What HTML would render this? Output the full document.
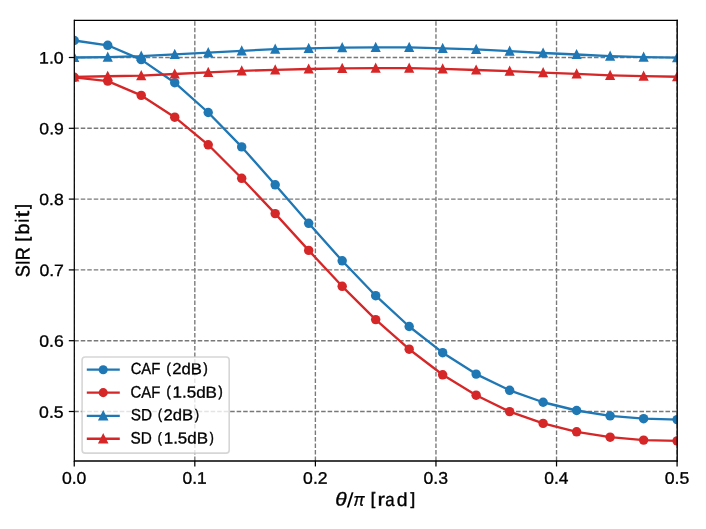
<!DOCTYPE html>
<html lang="en"><head><meta charset="utf-8"><title>SIR vs theta</title>
<style>html,body{margin:0;padding:0;background:#fff;}body{width:706px;height:529px;overflow:hidden;font-family:"Liberation Sans",sans-serif;}svg{display:block;will-change:transform;}text{text-rendering:geometricPrecision;font-family:"Liberation Sans",sans-serif;fill:#000;}</style>
</head><body>
<svg width="706" height="529" viewBox="0 0 706 529">
<defs><clipPath id="ax"><rect x="74.25" y="20.35" width="602.85" height="440.65"/></clipPath></defs>
<rect x="0" y="0" width="706" height="529" fill="#ffffff"/>
<g clip-path="url(#ax)" stroke="#787878" stroke-width="1.36" stroke-dasharray="4.535 1.962" fill="none">
<line x1="74.25" y1="461" x2="74.25" y2="20.35" stroke-dashoffset="0.05"/>
<line x1="194.82" y1="461" x2="194.82" y2="20.35" stroke-dashoffset="0.05"/>
<line x1="315.39" y1="461" x2="315.39" y2="20.35" stroke-dashoffset="0.05"/>
<line x1="435.96" y1="461" x2="435.96" y2="20.35" stroke-dashoffset="0.05"/>
<line x1="556.53" y1="461" x2="556.53" y2="20.35" stroke-dashoffset="0.05"/>
<line x1="677.1" y1="461" x2="677.1" y2="20.35" stroke-dashoffset="0.05"/>
<line x1="74.25" y1="57.5" x2="677.1" y2="57.5" stroke-dashoffset="0"/>
<line x1="74.25" y1="128.3" x2="677.1" y2="128.3" stroke-dashoffset="0"/>
<line x1="74.25" y1="199.1" x2="677.1" y2="199.1" stroke-dashoffset="0"/>
<line x1="74.25" y1="269.9" x2="677.1" y2="269.9" stroke-dashoffset="0"/>
<line x1="74.25" y1="340.7" x2="677.1" y2="340.7" stroke-dashoffset="0"/>
<line x1="74.25" y1="411.5" x2="677.1" y2="411.5" stroke-dashoffset="0"/>
</g>
<g clip-path="url(#ax)">
<polyline points="74.25,40.5 107.74,45.3 141.23,59.65 174.73,82.7 208.22,112.5 241.71,146.9 275.2,184.8 308.69,223.3 342.18,260.8 375.68,295.7 409.17,326.5 442.66,352.7 476.15,374.1 509.64,390.3 543.13,402.25 576.62,410.5 610.12,415.9 643.61,418.7 677.1,419.6" fill="none" stroke="#1f77b4" stroke-width="2.33" stroke-linejoin="round" stroke-linecap="square"/>
<g fill="#1f77b4">
<circle cx="74.25" cy="40.5" r="4.72"/>
<circle cx="107.74" cy="45.3" r="4.72"/>
<circle cx="141.23" cy="59.65" r="4.72"/>
<circle cx="174.73" cy="82.7" r="4.72"/>
<circle cx="208.22" cy="112.5" r="4.72"/>
<circle cx="241.71" cy="146.9" r="4.72"/>
<circle cx="275.2" cy="184.8" r="4.72"/>
<circle cx="308.69" cy="223.3" r="4.72"/>
<circle cx="342.18" cy="260.8" r="4.72"/>
<circle cx="375.68" cy="295.7" r="4.72"/>
<circle cx="409.17" cy="326.5" r="4.72"/>
<circle cx="442.66" cy="352.7" r="4.72"/>
<circle cx="476.15" cy="374.1" r="4.72"/>
<circle cx="509.64" cy="390.3" r="4.72"/>
<circle cx="543.13" cy="402.25" r="4.72"/>
<circle cx="576.62" cy="410.5" r="4.72"/>
<circle cx="610.12" cy="415.9" r="4.72"/>
<circle cx="643.61" cy="418.7" r="4.72"/>
<circle cx="677.1" cy="419.6" r="4.72"/>
</g>
</g>
<g clip-path="url(#ax)">
<polyline points="74.25,77.3 107.74,81.1 141.23,95.4 174.73,117.2 208.22,144.8 241.71,178.3 275.2,213.6 308.69,250.4 342.18,286.3 375.68,319.6 409.17,349.2 442.66,374.8 476.15,395.2 509.64,411.6 543.13,423.4 576.62,431.8 610.12,437.2 643.61,440.1 677.1,440.9" fill="none" stroke="#d62728" stroke-width="2.33" stroke-linejoin="round" stroke-linecap="square"/>
<g fill="#d62728">
<circle cx="74.25" cy="77.3" r="4.72"/>
<circle cx="107.74" cy="81.1" r="4.72"/>
<circle cx="141.23" cy="95.4" r="4.72"/>
<circle cx="174.73" cy="117.2" r="4.72"/>
<circle cx="208.22" cy="144.8" r="4.72"/>
<circle cx="241.71" cy="178.3" r="4.72"/>
<circle cx="275.2" cy="213.6" r="4.72"/>
<circle cx="308.69" cy="250.4" r="4.72"/>
<circle cx="342.18" cy="286.3" r="4.72"/>
<circle cx="375.68" cy="319.6" r="4.72"/>
<circle cx="409.17" cy="349.2" r="4.72"/>
<circle cx="442.66" cy="374.8" r="4.72"/>
<circle cx="476.15" cy="395.2" r="4.72"/>
<circle cx="509.64" cy="411.6" r="4.72"/>
<circle cx="543.13" cy="423.4" r="4.72"/>
<circle cx="576.62" cy="431.8" r="4.72"/>
<circle cx="610.12" cy="437.2" r="4.72"/>
<circle cx="643.61" cy="440.1" r="4.72"/>
<circle cx="677.1" cy="440.9" r="4.72"/>
</g>
</g>
<g clip-path="url(#ax)">
<polyline points="74.25,57.5 107.74,57.1 141.23,56.2 174.73,54.45 208.22,52.6 241.71,50.8 275.2,49.1 308.69,48.35 342.18,47.6 375.68,47.4 409.17,47.4 442.66,48.35 476.15,49.45 509.64,51.1 543.13,53 576.62,54.5 610.12,56.1 643.61,57.1 677.1,57.6" fill="none" stroke="#1f77b4" stroke-width="2.33" stroke-linejoin="round" stroke-linecap="square"/>
<g fill="#1f77b4" stroke="#1f77b4" stroke-width="1.6" stroke-linejoin="miter">
<path d="M74.25 53.7L70.45 61.3L78.05 61.3Z"/>
<path d="M107.74 53.3L103.94 60.9L111.54 60.9Z"/>
<path d="M141.23 52.4L137.43 60L145.03 60Z"/>
<path d="M174.73 50.65L170.93 58.25L178.53 58.25Z"/>
<path d="M208.22 48.8L204.42 56.4L212.02 56.4Z"/>
<path d="M241.71 47L237.91 54.6L245.51 54.6Z"/>
<path d="M275.2 45.3L271.4 52.9L279 52.9Z"/>
<path d="M308.69 44.55L304.89 52.15L312.49 52.15Z"/>
<path d="M342.18 43.8L338.38 51.4L345.98 51.4Z"/>
<path d="M375.68 43.6L371.88 51.2L379.48 51.2Z"/>
<path d="M409.17 43.6L405.37 51.2L412.97 51.2Z"/>
<path d="M442.66 44.55L438.86 52.15L446.46 52.15Z"/>
<path d="M476.15 45.65L472.35 53.25L479.95 53.25Z"/>
<path d="M509.64 47.3L505.84 54.9L513.44 54.9Z"/>
<path d="M543.13 49.2L539.33 56.8L546.93 56.8Z"/>
<path d="M576.62 50.7L572.83 58.3L580.42 58.3Z"/>
<path d="M610.12 52.3L606.32 59.9L613.92 59.9Z"/>
<path d="M643.61 53.3L639.81 60.9L647.41 60.9Z"/>
<path d="M677.1 53.8L673.3 61.4L680.9 61.4Z"/>
</g>
</g>
<g clip-path="url(#ax)">
<polyline points="74.25,76.8 107.74,76.25 141.23,75.6 174.73,74 208.22,72.3 241.71,70.9 275.2,69.85 308.69,69 342.18,68.3 375.68,68.1 409.17,68.2 442.66,68.8 476.15,70 509.64,71.2 543.13,72.6 576.62,73.95 610.12,75.3 643.61,76.2 677.1,76.7" fill="none" stroke="#d62728" stroke-width="2.33" stroke-linejoin="round" stroke-linecap="square"/>
<g fill="#d62728" stroke="#d62728" stroke-width="1.6" stroke-linejoin="miter">
<path d="M74.25 73L70.45 80.6L78.05 80.6Z"/>
<path d="M107.74 72.45L103.94 80.05L111.54 80.05Z"/>
<path d="M141.23 71.8L137.43 79.4L145.03 79.4Z"/>
<path d="M174.73 70.2L170.93 77.8L178.53 77.8Z"/>
<path d="M208.22 68.5L204.42 76.1L212.02 76.1Z"/>
<path d="M241.71 67.1L237.91 74.7L245.51 74.7Z"/>
<path d="M275.2 66.05L271.4 73.65L279 73.65Z"/>
<path d="M308.69 65.2L304.89 72.8L312.49 72.8Z"/>
<path d="M342.18 64.5L338.38 72.1L345.98 72.1Z"/>
<path d="M375.68 64.3L371.88 71.9L379.48 71.9Z"/>
<path d="M409.17 64.4L405.37 72L412.97 72Z"/>
<path d="M442.66 65L438.86 72.6L446.46 72.6Z"/>
<path d="M476.15 66.2L472.35 73.8L479.95 73.8Z"/>
<path d="M509.64 67.4L505.84 75L513.44 75Z"/>
<path d="M543.13 68.8L539.33 76.4L546.93 76.4Z"/>
<path d="M576.62 70.15L572.83 77.75L580.42 77.75Z"/>
<path d="M610.12 71.5L606.32 79.1L613.92 79.1Z"/>
<path d="M643.61 72.4L639.81 80L647.41 80Z"/>
<path d="M677.1 72.9L673.3 80.5L680.9 80.5Z"/>
</g>
</g>
<g stroke="#000" stroke-linecap="butt">
<line x1="74.3" y1="19.68" x2="74.3" y2="461.8" stroke-width="1.24"/>
<line x1="677.2" y1="19.68" x2="677.2" y2="461.8" stroke-width="1.4"/>
<line x1="73.93" y1="20.33" x2="677.9" y2="20.33" stroke-width="1.3"/>
<line x1="73.93" y1="461" x2="677.9" y2="461" stroke-width="1.6"/>
</g>
<g stroke="#000" stroke-width="1.24">
<line x1="74.25" y1="461" x2="74.25" y2="466.44"/>
<line x1="194.82" y1="461" x2="194.82" y2="466.44"/>
<line x1="315.39" y1="461" x2="315.39" y2="466.44"/>
<line x1="435.96" y1="461" x2="435.96" y2="466.44"/>
<line x1="556.53" y1="461" x2="556.53" y2="466.44"/>
<line x1="677.1" y1="461" x2="677.1" y2="466.44"/>
<line x1="74.25" y1="57.5" x2="68.81" y2="57.5"/>
<line x1="74.25" y1="128.3" x2="68.81" y2="128.3"/>
<line x1="74.25" y1="199.1" x2="68.81" y2="199.1"/>
<line x1="74.25" y1="269.9" x2="68.81" y2="269.9"/>
<line x1="74.25" y1="340.7" x2="68.81" y2="340.7"/>
<line x1="74.25" y1="411.5" x2="68.81" y2="411.5"/>
</g>
<text id="yt0" transform="translate(39.02 63.47) rotate(0.05) scale(1.1096 1.0341)" font-size="16" stroke="#000" stroke-width="0.3">1.0</text>
<text id="yt1" transform="translate(39.36 134.16) rotate(0.05) scale(1.0993 1.0136)" font-size="16" stroke="#000" stroke-width="0.3">0.9</text>
<text id="yt2" transform="translate(39.36 205.08) rotate(0.05) scale(1.0949 1.0166)" font-size="16" stroke="#000" stroke-width="0.3">0.8</text>
<text id="yt3" transform="translate(39.38 276.04) rotate(0.05) scale(1.1049 1.0278)" font-size="16" stroke="#000" stroke-width="0.3">0.7</text>
<text id="yt4" transform="translate(39.27 346.84) rotate(0.05) scale(1.0991 1.0335)" font-size="16" stroke="#000" stroke-width="0.3">0.6</text>
<text id="yt5" transform="translate(39.08 417.64) rotate(0.05) scale(1.1029 1.0246)" font-size="16" stroke="#000" stroke-width="0.3">0.5</text>
<text id="xt0" transform="translate(61.88 483.7) rotate(0.05) scale(1.1030 1.0551)" font-size="16" stroke="#000" stroke-width="0.3">0.0</text>
<text id="xt1" transform="translate(182.54 483.74) rotate(0.05) scale(1.0867 1.0507)" font-size="16" stroke="#000" stroke-width="0.3">0.1</text>
<text id="xt2" transform="translate(303.12 483.73) rotate(0.05) scale(1.0982 1.0467)" font-size="16" stroke="#000" stroke-width="0.3">0.2</text>
<text id="xt3" transform="translate(423.47 483.73) rotate(0.05) scale(1.1007 1.0510)" font-size="16" stroke="#000" stroke-width="0.3">0.3</text>
<text id="xt4" transform="translate(544.29 483.72) rotate(0.05) scale(1.0887 1.0502)" font-size="16" stroke="#000" stroke-width="0.3">0.4</text>
<text id="xt5" transform="translate(664.64 483.73) rotate(0.05) scale(1.1046 1.0470)" font-size="16" stroke="#000" stroke-width="0.3">0.5</text>
<text id="yl_SIR" transform="translate(29.41 277.29) rotate(-89.95) scale(1.1277 1.2312)" font-size="16" stroke="#000" stroke-width="0.3">SIR</text>
<text id="yl_lb" transform="translate(27.9 241.51) rotate(-89.95) scale(1.0436 1.0837)" font-size="16" stroke="#000" stroke-width="0.55">[</text>
<text id="yl_b" transform="translate(29.02 234.38) rotate(-89.95) scale(1.2377 1.1947)" font-size="16" stroke="#000" stroke-width="0.3">b</text>
<text id="yl_i" transform="translate(28.83 222.21) rotate(-89.95) scale(0.9392 1.1958)" font-size="16" stroke="#000" stroke-width="0.3">i</text>
<text id="yl_t" transform="translate(28.95 217.62) rotate(-89.95) scale(1.4946 1.2403)" font-size="16" stroke="#000" stroke-width="0.3">t</text>
<text id="yl_rb" transform="translate(27.84 208.73) rotate(-89.95) scale(1.0410 1.0862)" font-size="16" stroke="#000" stroke-width="0.55">]</text>
<text id="xl_theta" transform="translate(335.24 505.53) rotate(0.05) scale(1.3071 1.1681)" font-size="16" stroke="#000" stroke-width="0.3" font-style="italic">θ</text>
<text id="xl_slash" transform="translate(346.71 507.18) rotate(0.05) scale(1.5315 1.3002)" font-size="16" stroke="#000" stroke-width="0">/</text>
<text id="xl_pi" transform="translate(353.44 505.69) rotate(0.05) scale(1.0290 1.1480)" font-size="16" stroke="#000" stroke-width="0.3" font-style="italic">π</text>
<text id="xl_lb" transform="translate(370.72 504.58) rotate(0.05) scale(1.0164 1.0648)" font-size="16" stroke="#000" stroke-width="0.55">[</text>
<text id="xl_r" transform="translate(377.48 505.47) rotate(0.05) scale(1.4128 1.1321)" font-size="16" stroke="#000" stroke-width="0.3">r</text>
<text id="xl_a" transform="translate(385.28 505.92) rotate(0.05) scale(1.0478 1.1812)" font-size="16" stroke="#000" stroke-width="0.3">a</text>
<text id="xl_d" transform="translate(396.7 505.95) rotate(0.05) scale(1.2068 1.1786)" font-size="16" stroke="#000" stroke-width="0.3">d</text>
<text id="xl_rb" transform="translate(410.38 504.54) rotate(0.05) scale(1.0384 1.0622)" font-size="16" stroke="#000" stroke-width="0.55">]</text>
<rect x="82.1" y="356.95" width="147.1" height="96.2" rx="3.1" ry="3.1" fill="#ffffff" fill-opacity="0.8" stroke="#cccccc" stroke-opacity="0.8" stroke-width="1.6"/>
<line x1="86.8" y1="369.7" x2="119.8" y2="369.7" stroke="#1f77b4" stroke-width="2.33"/>
<circle cx="103.2" cy="369.7" r="4.55" fill="#1f77b4"/>
<line x1="86.8" y1="392.65" x2="119.8" y2="392.65" stroke="#d62728" stroke-width="2.33"/>
<circle cx="103.2" cy="392.65" r="4.55" fill="#d62728"/>
<line x1="86.8" y1="415.8" x2="119.8" y2="415.8" stroke="#1f77b4" stroke-width="2.33"/>
<path d="M103.2 411.82L99.22 419.78L107.18 419.78Z" fill="#1f77b4" stroke="#1f77b4" stroke-width="1.6" stroke-linejoin="miter"/>
<line x1="86.8" y1="438.75" x2="119.8" y2="438.75" stroke="#d62728" stroke-width="2.33"/>
<path d="M103.2 434.77L99.22 442.73L107.18 442.73Z" fill="#d62728" stroke="#d62728" stroke-width="1.6" stroke-linejoin="miter"/>
<text id="lg0_w" transform="translate(130.64 373.98) rotate(0.05) scale(0.9290 1.0090)" font-size="16" stroke="#000" stroke-width="0.3">CAF</text>
<text id="lg0_lp" transform="translate(166.48 372.98) rotate(0.05) scale(0.8012 0.8914)" font-size="16" stroke="#000" stroke-width="0.55">(</text>
<text id="lg0_v" transform="translate(172.17 374.12) rotate(0.05) scale(1.0432 0.9869)" font-size="16" stroke="#000" stroke-width="0.3">2dB</text>
<text id="lg0_rp" transform="translate(203.5 372.91) rotate(0.05) scale(0.7902 0.8997)" font-size="16" stroke="#000" stroke-width="0.55">)</text>
<text id="lg1_w" transform="translate(130.57 397.62) rotate(0.05) scale(0.9315 1.0270)" font-size="16" stroke="#000" stroke-width="0.3">CAF</text>
<text id="lg1_lp" transform="translate(166.39 396.29) rotate(0.05) scale(0.7779 0.9085)" font-size="16" stroke="#000" stroke-width="0.55">(</text>
<text id="lg1_v" transform="translate(172.45 397.61) rotate(0.05) scale(1.0648 0.9960)" font-size="16" stroke="#000" stroke-width="0.3">1.5dB</text>
<text id="lg1_rp" transform="translate(218.48 396.37) rotate(0.05) scale(0.7862 0.9050)" font-size="16" stroke="#000" stroke-width="0.55">)</text>
<text id="lg2_w" transform="translate(130.74 420.21) rotate(0.05) scale(0.9576 1.0127)" font-size="16" stroke="#000" stroke-width="0.3">SD</text>
<text id="lg2_lp" transform="translate(157.9 419.01) rotate(0.05) scale(0.7353 0.8956)" font-size="16" stroke="#000" stroke-width="0.55">(</text>
<text id="lg2_v" transform="translate(163.58 420.32) rotate(0.05) scale(1.0388 0.9840)" font-size="16" stroke="#000" stroke-width="0.3">2dB</text>
<text id="lg2_rp" transform="translate(194.95 419.17) rotate(0.05) scale(0.7459 0.8935)" font-size="16" stroke="#000" stroke-width="0.55">)</text>
<text id="lg3_w" transform="translate(130.43 443.57) rotate(0.05) scale(0.9578 1.0269)" font-size="16" stroke="#000" stroke-width="0.3">SD</text>
<text id="lg3_lp" transform="translate(157.85 442.44) rotate(0.05) scale(0.7426 0.8926)" font-size="16" stroke="#000" stroke-width="0.55">(</text>
<text id="lg3_v" transform="translate(163.72 443.59) rotate(0.05) scale(1.0588 0.9956)" font-size="16" stroke="#000" stroke-width="0.3">1.5dB</text>
<text id="lg3_rp" transform="translate(209.72 442.32) rotate(0.05) scale(0.7518 0.8924)" font-size="16" stroke="#000" stroke-width="0.55">)</text>
</svg>
</body></html>
